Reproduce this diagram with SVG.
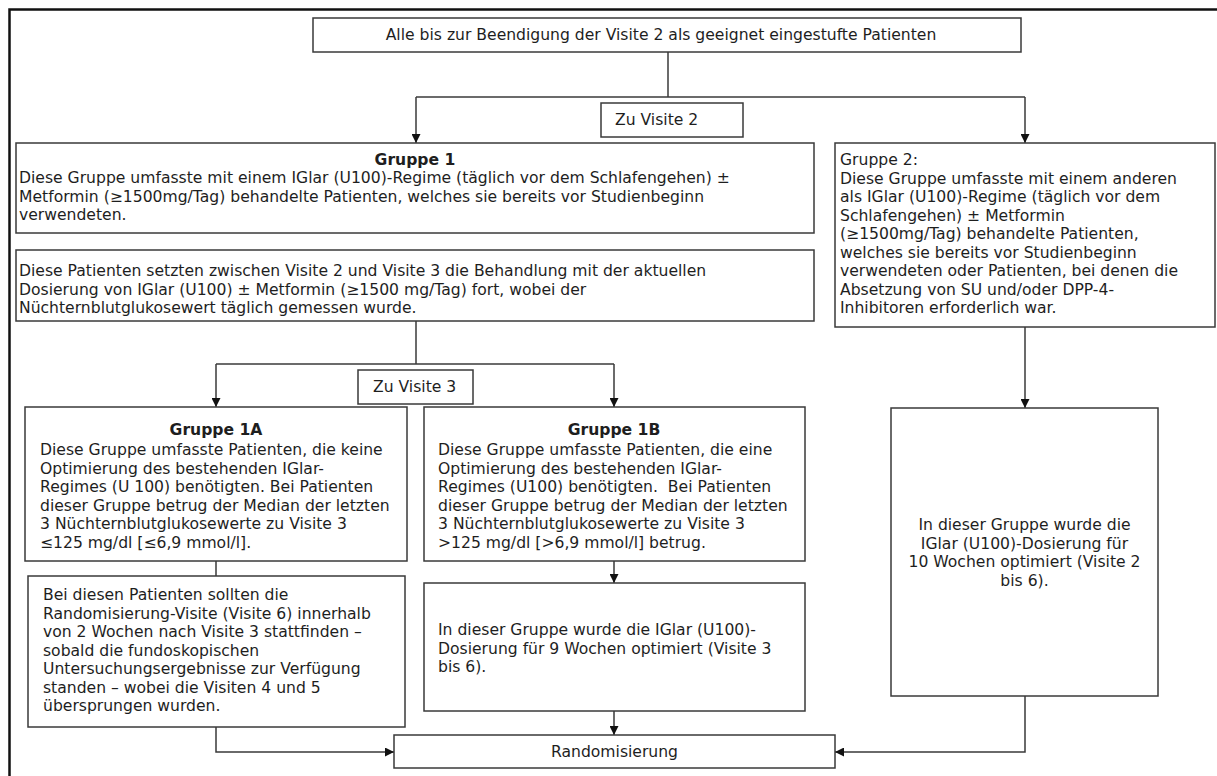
<svg xmlns="http://www.w3.org/2000/svg" width="1217" height="776" viewBox="0 0 1217 776">
<style>
.box{fill:#fff;stroke:#3a3a3a;stroke-width:1.5}
.conn{fill:none;stroke:#3a3a3a;stroke-width:1.5}
.frame{fill:none;stroke:#111;stroke-width:2.5}
text{font-family:"DejaVu Sans",Verdana,sans-serif;font-size:15.6px;fill:#1e1e1e}
.b{font-weight:bold}
.c{text-anchor:middle}
</style>
<defs>
<marker id="ah" viewBox="0 0 10 10" refX="10" refY="5" markerWidth="10" markerHeight="9" orient="auto" markerUnits="userSpaceOnUse"><path d="M0,0 L10,5 L0,10 z" fill="#111"/></marker>
</defs>
<rect width="1217" height="776" fill="#fff"/>
<path class="frame" d="M9.5,776 V9.5 H1217"/>

<g id="connectors">
<path class="conn" d="M668,52 V97"/>
<path class="conn" d="M416,97 H1025"/>
<path class="conn" d="M416,97 V143" marker-end="url(#ah)"/>
<path class="conn" d="M1025,97 V143" marker-end="url(#ah)"/>
<path class="conn" d="M416,321 V364"/>
<path class="conn" d="M216,364 H614"/>
<path class="conn" d="M216,364 V407" marker-end="url(#ah)"/>
<path class="conn" d="M614,364 V407" marker-end="url(#ah)"/>
<path class="conn" d="M216,561 V576"/>
<path class="conn" d="M614,561 V583" marker-end="url(#ah)"/>
<path class="conn" d="M614,711 V735" marker-end="url(#ah)"/>
<path class="conn" d="M216,727 V752 H394" marker-end="url(#ah)"/>
<path class="conn" d="M1025,327 V408" marker-end="url(#ah)"/>
<path class="conn" d="M1025,696 V752 H835" marker-end="url(#ah)"/>
</g>

<g id="n_top">
<rect class="box" x="313" y="18" width="708" height="34"/>
<text class="c" x="661" y="40">Alle bis zur Beendigung der Visite 2 als geeignet eingestufte Patienten</text>
</g>

<g id="n_zuvisite2">
<rect class="box" x="601" y="103" width="142" height="34"/>
<text x="615" y="125">Zu Visite 2</text>
</g>

<g id="n_gruppe1">
<rect class="box" x="16" y="143" width="798" height="90"/>
<text class="b c" x="415" y="165">Gruppe 1</text>
<text x="19" y="183">Diese Gruppe umfasste mit einem IGlar (U100)-Regime (täglich vor dem Schlafengehen) ±</text>
<text x="19" y="201.5">Metformin (≥1500mg/Tag) behandelte Patienten, welches sie bereits vor Studienbeginn</text>
<text x="19" y="220">verwendeten.</text>
</g>

<g id="n_patienten">
<rect class="box" x="16" y="250" width="798" height="71"/>
<text x="19" y="276">Diese Patienten setzten zwischen Visite 2 und Visite 3 die Behandlung mit der aktuellen</text>
<text x="19" y="294.5">Dosierung von IGlar (U100) ± Metformin (≥1500 mg/Tag) fort, wobei der</text>
<text x="19" y="313">Nüchternblutglukosewert täglich gemessen wurde.</text>
</g>

<g id="n_zuvisite3">
<rect class="box" x="358" y="370" width="115" height="34"/>
<text x="373" y="392">Zu Visite 3</text>
</g>

<g id="n_gruppe1a">
<rect class="box" x="25" y="407" width="382" height="154"/>
<text class="b c" x="216" y="435">Gruppe 1A</text>
<text x="40" y="455">Diese Gruppe umfasste Patienten, die keine</text>
<text x="40" y="473.5">Optimierung des bestehenden IGlar-</text>
<text x="40" y="492">Regimes (U 100) benötigten. Bei Patienten</text>
<text x="40" y="510.5">dieser Gruppe betrug der Median der letzten</text>
<text x="40" y="529">3 Nüchternblutglukosewerte zu Visite 3</text>
<text x="40" y="547.5">≤125 mg/dl [≤6,9 mmol/l].</text>
</g>

<g id="n_gruppe1b">
<rect class="box" x="424" y="407" width="381" height="154"/>
<text class="b c" x="614" y="435">Gruppe 1B</text>
<text x="438" y="455">Diese Gruppe umfasste Patienten, die eine</text>
<text x="438" y="473.5">Optimierung des bestehenden IGlar-</text>
<text x="438" y="492" xml:space="preserve">Regimes (U100) benötigten.  Bei Patienten</text>
<text x="438" y="510.5">dieser Gruppe betrug der Median der letzten</text>
<text x="438" y="529">3 Nüchternblutglukosewerte zu Visite 3</text>
<text x="438" y="547.5">&gt;125 mg/dl [&gt;6,9 mmol/l] betrug.</text>
</g>

<g id="n_1a_detail">
<rect class="box" x="28" y="576" width="377" height="151"/>
<text x="43" y="600">Bei diesen Patienten sollten die</text>
<text x="43" y="618.5">Randomisierung-Visite (Visite 6) innerhalb</text>
<text x="43" y="637">von 2 Wochen nach Visite 3 stattfinden –</text>
<text x="43" y="655.5">sobald die fundoskopischen</text>
<text x="43" y="674">Untersuchungsergebnisse zur Verfügung</text>
<text x="43" y="692.5">standen – wobei die Visiten 4 und 5</text>
<text x="43" y="711">übersprungen wurden.</text>
</g>

<g id="n_1b_detail">
<rect class="box" x="424" y="583" width="381" height="128"/>
<text x="438" y="635">In dieser Gruppe wurde die IGlar (U100)-</text>
<text x="438" y="653.5">Dosierung für 9 Wochen optimiert (Visite 3</text>
<text x="438" y="672">bis 6).</text>
</g>

<g id="n_gruppe2">
<rect class="box" x="835" y="143" width="380" height="184"/>
<text x="840" y="165">Gruppe 2:</text>
<text x="840" y="183.5">Diese Gruppe umfasste mit einem anderen</text>
<text x="840" y="202">als IGlar (U100)-Regime (täglich vor dem</text>
<text x="840" y="220.5">Schlafengehen) ± Metformin</text>
<text x="840" y="239">(≥1500mg/Tag) behandelte Patienten,</text>
<text x="840" y="257.5">welches sie bereits vor Studienbeginn</text>
<text x="840" y="276">verwendeten oder Patienten, bei denen die</text>
<text x="840" y="294.5">Absetzung von SU und/oder DPP-4-</text>
<text x="840" y="313">Inhibitoren erforderlich war.</text>
</g>

<g id="n_gruppe2_detail">
<rect class="box" x="891" y="408" width="267" height="288"/>
<text class="c" x="1024.5" y="530">In dieser Gruppe wurde die</text>
<text class="c" x="1024.5" y="548.5">IGlar (U100)-Dosierung für</text>
<text class="c" x="1024.5" y="567">10 Wochen optimiert (Visite 2</text>
<text class="c" x="1024.5" y="585.5">bis 6).</text>
</g>

<g id="n_random">
<rect class="box" x="394" y="735" width="441" height="33"/>
<text class="c" x="614.5" y="757">Randomisierung</text>
</g>
</svg>
